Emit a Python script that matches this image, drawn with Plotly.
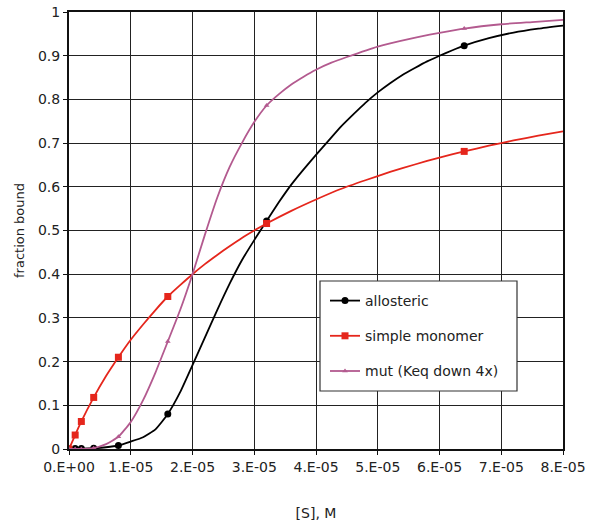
import plotly.graph_objects as go

# ---------------- data ----------------
# marker points (doubling concentrations)
x_mark = [0, 1e-6, 2e-6, 4e-6, 8e-6, 16e-6, 32e-6, 64e-6]
allo_mark = [0, 0.001, 0.001, 0.002, 0.008, 0.080, 0.522, 0.923]
mono_mark = [0, 0.032, 0.063, 0.118, 0.210, 0.349, 0.516, 0.681]
mut_mark = [0, 0.000, 0.000, 0.002, 0.028, 0.246, 0.786, 0.962]

# dense curves
x_allo = [0, 1e-6, 2e-6, 4e-6, 6e-6, 8e-6, 10e-6, 12e-6, 14e-6, 16e-6, 18e-6,
          20e-6, 22e-6, 24e-6, 26e-6, 28e-6, 30e-6, 32e-6, 34e-6, 36e-6,
          38e-6, 40e-6, 42e-6, 44e-6, 46e-6, 48e-6, 50e-6, 52e-6, 54e-6,
          56e-6, 58e-6, 60e-6, 62e-6, 64e-6, 68e-6, 72e-6, 76e-6, 80e-6]
y_allo = [0, 0.001, 0.001, 0.002, 0.004, 0.008, 0.017, 0.027, 0.045, 0.080,
          0.130, 0.192, 0.255, 0.318, 0.378, 0.432, 0.478, 0.522, 0.565,
          0.605, 0.640, 0.673, 0.705, 0.737, 0.765, 0.792, 0.816, 0.837,
          0.856, 0.872, 0.887, 0.900, 0.912, 0.923, 0.940, 0.953, 0.962,
          0.969]

x_mono = [0, 1e-6, 2e-6, 4e-6, 6e-6, 8e-6, 10e-6, 12e-6, 14e-6, 16e-6, 18e-6,
          20e-6, 22e-6, 24e-6, 26e-6, 28e-6, 30e-6, 32e-6, 36e-6, 40e-6,
          44e-6, 48e-6, 52e-6, 56e-6, 60e-6, 64e-6, 68e-6, 72e-6, 76e-6,
          80e-6]
y_mono = [0, 0.032, 0.063, 0.118, 0.167, 0.210, 0.250, 0.285, 0.318, 0.349,
          0.375, 0.400, 0.423, 0.444, 0.464, 0.483, 0.500, 0.516, 0.545,
          0.571, 0.595, 0.615, 0.634, 0.651, 0.667, 0.681, 0.694, 0.706,
          0.717, 0.727]

x_mut = [0, 1e-6, 2e-6, 4e-6, 6e-6, 8e-6, 10e-6, 12e-6, 14e-6, 16e-6, 18e-6,
         20e-6, 22e-6, 24e-6, 26e-6, 28e-6, 30e-6, 32e-6, 34e-6, 36e-6,
         38e-6, 40e-6, 42.5e-6, 45e-6, 50e-6, 55e-6, 60e-6, 64e-6, 70e-6,
         75e-6, 80e-6]
y_mut = [0, 0.000, 0.000, 0.002, 0.011, 0.028, 0.062, 0.112, 0.175, 0.246,
         0.318, 0.400, 0.490, 0.575, 0.645, 0.700, 0.748, 0.786, 0.812,
         0.834, 0.852, 0.868, 0.884, 0.897, 0.921, 0.938, 0.952, 0.962,
         0.972, 0.977, 0.982]

x_ticks = [0, 1e-5, 2e-5, 3e-5, 4e-5, 5e-5, 6e-5, 7e-5, 8e-5]
x_ticktext = ["0.E+00", "1.E-05", "2.E-05", "3.E-05", "4.E-05", "5.E-05",
              "6.E-05", "7.E-05", "8.E-05"]
y_ticks = [0, 0.1, 0.2, 0.3, 0.4, 0.5, 0.6, 0.7, 0.8, 0.9, 1]
y_ticktext = ["0", "0.1", "0.2", "0.3", "0.4", "0.5", "0.6", "0.7", "0.8",
              "0.9", "1"]

names = ["allosteric", "simple monomer", "mut (Keq down 4x)"]

# ---------------- styling ----------------
BLACK = "#000000"
RED = "#e5261c"
MAUVE = "#b35a8f"
FONT = "DejaVu Sans"

series = [
    (names[0], x_allo, y_allo, allo_mark, BLACK, "circle", 7),
    (names[1], x_mono, y_mono, mono_mark, RED, "square", 7),
    (names[2], x_mut, y_mut, mut_mark, MAUVE, "triangle-up", 5),
]

fig = go.Figure()
for i, (name, xs, ys, ym, col, sym, msz) in enumerate(series):
    fig.add_trace(go.Scatter(x=xs, y=ys, mode="lines",
                             line=dict(color=col, width=1.8, shape="spline",
                                       smoothing=0.5),
                             showlegend=False, hoverinfo="skip"))
    fig.add_trace(go.Scatter(x=x_mark, y=ym, mode="markers",
                             marker=dict(color=col, symbol=sym, size=msz),
                             showlegend=False, name=name))
    fig.add_trace(go.Scatter(x=[None], y=[None], mode="lines+markers",
                             line=dict(color=col, width=1.8),
                             marker=dict(color=col, symbol=sym, size=msz),
                             name=name, legendgroup=f"g{i}"))

L, R, T, B = 69, 28, 12, 76
W, H = 591, 525
pw, ph = W - L - R, H - T - B

def px_x(p):
    return (p - L) / pw

def px_y(p):
    return (H - B - p) / ph

fig.add_shape(type="rect", xref="paper", yref="paper",
              x0=px_x(320), x1=px_x(517), y0=px_y(391), y1=px_y(281),
              line=dict(color="#333333", width=1.2), fillcolor="white",
              layer="above")

fig.update_layout(
    width=W, height=H,
    margin=dict(l=L, r=R, t=T, b=B, autoexpand=False),
    paper_bgcolor="white", plot_bgcolor="white",
    font=dict(family=FONT, size=14, color="#222222"),
    showlegend=True,
    legend=dict(x=px_x(325), y=px_y(285), xanchor="left", yanchor="top",
                bgcolor="rgba(0,0,0,0)", borderwidth=0,
                tracegroupgap=14, font=dict(family=FONT, size=14,
                                            color="#222222")),
    xaxis=dict(range=[0, 8e-5], tickvals=x_ticks, ticktext=x_ticktext,
               automargin=False,
               showgrid=True, gridcolor="#222222", gridwidth=1,
               zeroline=False, showline=True, linecolor="#111111",
               linewidth=2, mirror=True, ticks="outside", ticklen=4,
               tickcolor="#111111",
               title=dict(text="[S], M", standoff=34,
                          font=dict(family=FONT, size=14))),
    yaxis=dict(range=[0, 1], tickvals=y_ticks, ticktext=y_ticktext,
               automargin=False,
               showgrid=True, gridcolor="#222222", gridwidth=1,
               zeroline=False, showline=True, linecolor="#111111",
               linewidth=2, mirror=True, ticks="outside", ticklen=4,
               tickcolor="#111111",
               title=dict(text="fraction bound", standoff=10,
                          font=dict(family=FONT, size=13))),
)

fig.write_html("out.html")
